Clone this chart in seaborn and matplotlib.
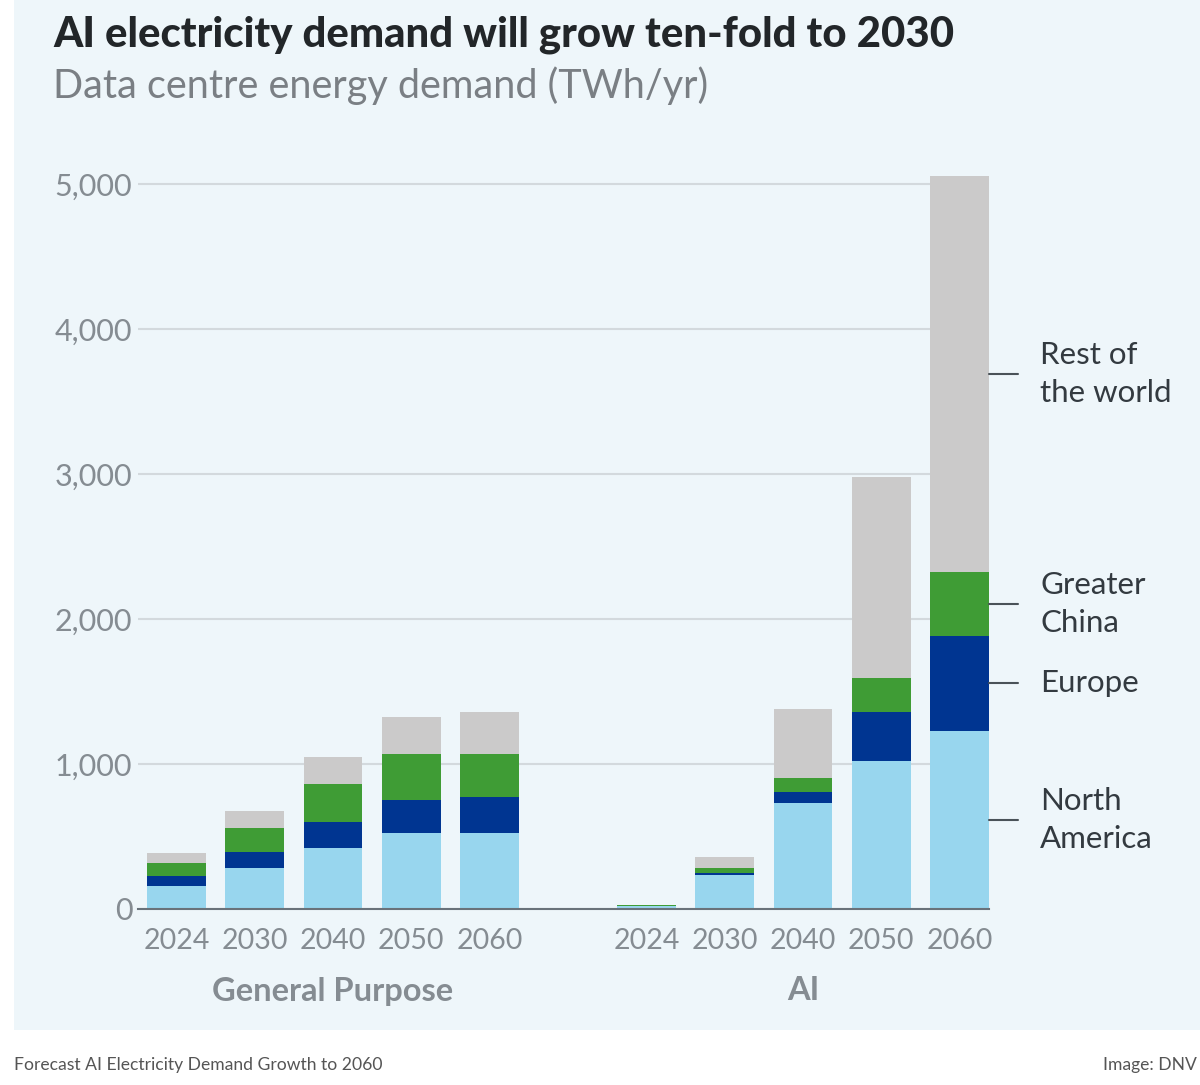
import numpy as np
import pandas as pd
import matplotlib
matplotlib.use("Agg")
import matplotlib.pyplot as plt
import seaborn as sns
from matplotlib.patches import Rectangle

# values (TWh/yr)
years = ["2024", "2030", "2040", "2050", "2060"]
groups = ["General Purpose", "AI"]
regions = ["North\nAmerica", "Europe", "Greater\nChina", "Rest of\nthe world"]

gp_north_america = [161, 281, 423, 522, 526]
gp_europe = [67, 110, 175, 228, 244]
gp_china = [89, 170, 262, 317, 297]
gp_rest = [69, 113, 186, 255, 294]

ai_north_america = [20, 234, 729, 1021, 1228]
ai_europe = [3, 12, 78, 338, 657]
ai_china = [3, 34, 99, 232, 439]
ai_rest = [4, 76, 473, 1386, 2731]

colors = ["#98D6EE", "#003591", "#3F9C35", "#CBCACA"]
panel_bg = "#EEF6FA"

sns.set_theme(style="white")
plt.rcParams['font.family'] = ['Lato', 'DejaVu Sans']

# build long table, stacked cumulatively
rows = []
for g, series in enumerate([[gp_north_america, gp_europe, gp_china, gp_rest],
                            [ai_north_america, ai_europe, ai_china, ai_rest]]):
    cum = np.cumsum(np.array(series), axis=0)
    for i, yr in enumerate(years):
        pos = i + g * (len(years) + 1)
        for r in range(len(regions)):
            rows.append({"group": groups[g], "year": yr, "pos": pos,
                         "layer": r, "cum": cum[r, i]})
df = pd.DataFrame(rows)

fig = plt.figure(figsize=(12, 10.85), dpi=100)
fig.patch.set_facecolor("white")
fig.patches.append(Rectangle((14 / 1200, 55 / 1085), 1, 1, transform=fig.transFigure,
                             facecolor=panel_bg, edgecolor="none", zorder=-10))

ax = fig.add_axes([138 / 1200, 176 / 1085, 851 / 1200, 739.5 / 1085])
ax.set_facecolor("none")

# draw tallest layer first so lower layers sit on top
for r in reversed(range(len(regions))):
    sns.barplot(data=df[df["layer"] == r], x="pos", y="cum", native_scale=True,
                width=0.75, color=colors[r], saturation=1, errorbar=None,
                linewidth=0, ax=ax, zorder=2)

ax.set_xlim(-0.49, 10.375)
ax.set_ylim(0, 5100)
ax.set_yticks(range(0, 5001, 1000))
ax.set_yticklabels([f"{v:,}" for v in range(0, 5001, 1000)])
positions = sorted(df["pos"].unique())
ax.set_xticks(positions)
ax.set_xticklabels(years * 2)
ax.set_xlabel("")
ax.set_ylabel("")

for s in ["top", "right", "left"]:
    ax.spines[s].set_visible(False)
ax.spines["bottom"].set_color("#69727A")
ax.spines["bottom"].set_linewidth(1.5)
ax.spines["bottom"].set_zorder(3)
ax.yaxis.grid(True, color="#D3D9DD", linewidth=1.5)
ax.set_axisbelow(True)
ax.tick_params(axis="both", length=0, colors="#858C92")
ax.tick_params(axis="y", labelsize=22, pad=4)
ax.tick_params(axis="x", labelsize=20.5, pad=14)

# group labels under the years
for g, name in enumerate(groups):
    center = np.mean(df[df["group"] == name]["pos"].unique())
    ax.annotate(name, xy=(center, 1 - 991 / 1085), xycoords=("data", "figure fraction"),
                ha="center", va="center", fontsize=23.5, fontweight="bold", color="#858C92")

# direct labels on the right of the last AI bar
last = df[(df["group"] == "AI") & (df["year"] == years[-1])].sort_values("layer")
cum_last = last["cum"].to_numpy()
lows = np.concatenate([[0], cum_last[:-1]])
for r, name in enumerate(regions):
    mid = (lows[r] + cum_last[r]) / 2
    ax.plot([10.375, 10.745], [mid, mid], color="#4A5258", linewidth=1.5,
            clip_on=False)
    ax.text(11.03, mid, name, ha="left", va="center", fontsize=22.5,
            color="#333A40", linespacing=1.42, clip_on=False)

fig.text(53 / 1200, 1 - 35 / 1085, "AI electricity demand will grow ten-fold to 2030",
         ha="left", va="center", fontsize=30.2, fontweight="black", color="#222629")
fig.text(53 / 1200, 1 - 86 / 1085, "Data centre energy demand (TWh/yr)",
         ha="left", va="center", fontsize=28.5, color="#7A7F84")

fig.text(14 / 1200, 1 - 1065 / 1085, "Forecast AI Electricity Demand Growth to 2060",
         ha="left", va="center", fontsize=12.6, color="#555555")
fig.text(1197 / 1200, 1 - 1065 / 1085, "Image: DNV",
         ha="right", va="center", fontsize=12.6, color="#555555")

fig.savefig("out.png", dpi=100)
